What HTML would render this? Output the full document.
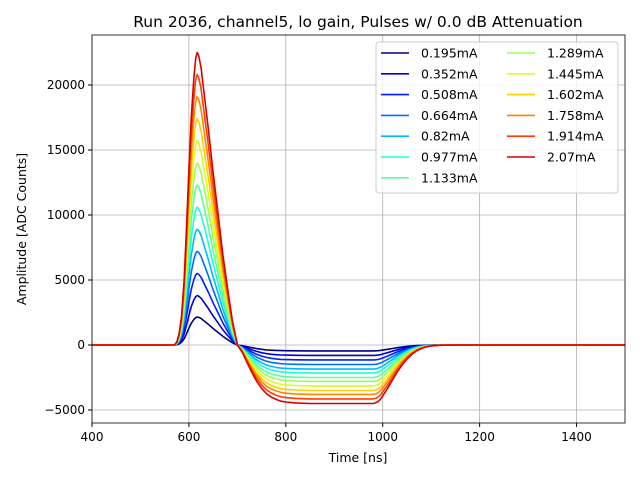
<!DOCTYPE html>
<html><head><meta charset="utf-8"><style>
body{margin:0;background:#fff;font-family:"Liberation Sans","DejaVu Sans",sans-serif}
svg text{font-family:"DejaVu Sans","Liberation Sans",sans-serif}
</style></head><body>
<svg id="c" width="640" height="480"></svg>
<script>
const currents=["0.195mA","0.352mA","0.508mA","0.664mA","0.82mA","0.977mA","1.133mA","1.289mA","1.445mA","1.602mA","1.758mA","1.914mA","2.07mA"];
const peaks=[2150,3800,5500,7200,8900,10600,12300,14000,15700,17400,19100,20800,22500];
const undershoots=[-450,-800,-1150,-1500,-1850,-2150,-2500,-2800,-3150,-3500,-3800,-4150,-4500];
const shapeT=[400,570,575,580,585,590,595,600,605,610,614,617,620,625,630,640,650,660,670,680,690,700,710,720,730,740,750,760,770,780,790,800,820,850,980,985,990,995,1000,1010,1020,1030,1040,1050,1060,1070,1080,1090,1100,1120,1150,1500];
const shapePos=[0,0,0.01,0.04,0.1,0.22,0.4,0.6,0.78,0.91,0.98,1,0.99,0.95,0.88,0.74,0.59,0.45,0.31,0.19,0.08,0,0,0,0,0,0,0,0,0,0,0,0,0,0,0,0,0,0,0,0,0,0,0,0,0,0,0,0,0,0,0];
const shapeNeg=[0,0,0,0,0,0,0,0,0,0,0,0,0,0,0,0,0,0,0,0,0,0,0.12,0.3,0.47,0.62,0.74,0.83,0.89,0.93,0.96,0.975,0.99,1,1,0.99,0.97,0.93,0.87,0.74,0.6,0.46,0.34,0.24,0.16,0.1,0.06,0.03,0.015,0.003,0,0];
const xTicks=[400,600,800,1000,1200,1400];
const yTicks=[-5000,0,5000,10000,15000,20000];
const L=92,R=625,T=35,B=423;
const X=v=>L+(v-400)/1100*(R-L);
const Y=v=>345-v*0.013;
const svg=document.getElementById('c');const NS='http://www.w3.org/2000/svg';
function mk(t,a,p){const e=document.createElementNS(NS,t);for(const k in a)e.setAttribute(k,a[k]);(p||svg).appendChild(e);return e;}
function jet(x){function seg(pts){for(let i=0;i<pts.length-1;i++){const[a,va]=pts[i],[b,vb]=pts[i+1];if(x>=a&&x<=b)return va+(vb-va)*(x-a)/(b-a);}return x<pts[0][0]?pts[0][1]:pts[pts.length-1][1];}
const r=seg([[0,0],[0.35,0],[0.66,1],[0.89,1],[1,0.5]]),g=seg([[0,0],[0.125,0],[0.375,1],[0.64,1],[0.91,0],[1,0]]),b=seg([[0,0.5],[0.11,1],[0.34,1],[0.65,0],[1,0]]);
return `rgb(${Math.round(r*255)},${Math.round(g*255)},${Math.round(b*255)})`;}
const title=mk('text',{x:358,y:27,'text-anchor':'middle','font-size':15.5});title.textContent='Run 2036, channel5, lo gain, Pulses w/ 0.0 dB Attenuation';


xTicks.forEach(v=>{const x=X(v);
const g=mk('line',{x1:x,x2:x,y1:T,y2:B,stroke:'#b0b0b0','stroke-width':0.8});
mk('line',{x1:x,x2:x,y1:B,y2:B+4,stroke:'#000'});
const t=mk('text',{x:x,y:B+18,'text-anchor':'middle','font-size':12});t.textContent=v;

});
yTicks.forEach(v=>{const y=Y(v);
const g=mk('line',{x1:L,x2:R,y1:y,y2:y,stroke:'#b0b0b0','stroke-width':0.8});
mk('line',{x1:L-4,x2:L,y1:y,y2:y,stroke:'#000'});
const t=mk('text',{x:L-7,y:y+4,'text-anchor':'end','font-size':12});t.textContent=v<0?'\u2212'+(-v):v;

});
peaks.forEach((p,i)=>{const pts=shapeT.map((t,k)=>X(t).toFixed(1)+','+Y(p*shapePos[k]+undershoots[i]*shapeNeg[k]).toFixed(1)).join(' ');
const l=mk('polyline',{points:pts,fill:'none',stroke:jet(i/13),'stroke-width':1.6,'stroke-linejoin':'round'});

});
const fr=mk('rect',{x:L,y:T,width:R-L,height:B-T,fill:'none',stroke:'#000','stroke-width':0.8});

const xl=mk('text',{x:358,y:462,'text-anchor':'middle','font-size':12.5});xl.textContent='Time [ns]';

const yl=mk('text',{x:26,y:229,'text-anchor':'middle','font-size':12.5,transform:'rotate(-90 26 229)'});yl.textContent='Amplitude [ADC Counts]';

const lg=mk('rect',{x:376,y:42,width:242,height:151,fill:'#fff','fill-opacity':0.8,stroke:'#ccc',rx:3});

currents.forEach((c,i)=>{const col=i<7?0:1,row=i<7?i:i-7;const x=381+col*126,y=53+row*20.8;
mk('line',{x1:x,x2:x+28,y1:y,y2:y,stroke:jet(i/13),'stroke-width':1.6});
const t=mk('text',{x:x+40,y:y+4.5,'font-size':12.5});t.textContent=c;

});
</script></body></html>
